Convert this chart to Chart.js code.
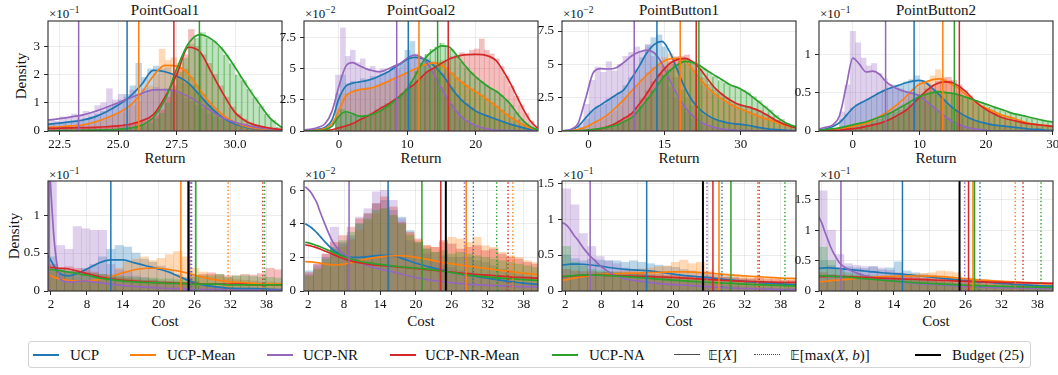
<!DOCTYPE html>
<html><head><meta charset="utf-8">
<script src="https://cdn.jsdelivr.net/npm/chart.js"></script>
<style>
html,body{margin:0;padding:0;background:#fff;}
body{width:1058px;height:375px;position:relative;overflow:hidden;font-family:"Liberation Serif","DejaVu Serif",serif;}
canvas{position:absolute;}
.t{position:absolute;white-space:nowrap;color:#111;line-height:1;font-weight:400;}
.c{transform:translate(-50%,-50%);}
.big{font-size:15px;}
.rot{transform:translate(-50%,-50%) rotate(-90deg);}
.off{font-size:13px;transform:translateY(-50%);}
.off sup{font-size:9.5px;vertical-align:5px;line-height:0;}
#legend{position:absolute;left:28px;top:341px;width:1003px;height:27px;border:1px solid #d4d4d4;border-radius:3px;box-sizing:border-box;}
.sw{position:absolute;height:0;width:26px;}
.lt{position:absolute;font-size:15px;transform:translateY(-50%);white-space:nowrap;line-height:1;color:#111;}
.bb{font-family:"DejaVu Sans",sans-serif;font-size:13.5px;}
</style></head><body>

<div class="t c big" style="left:165px;top:10px">PointGoal1</div>
<div class="t c big" style="left:421px;top:10px">PointGoal2</div>
<div class="t c big" style="left:679px;top:10px">PointButton1</div>
<div class="t c big" style="left:936px;top:10px">PointButton2</div>

<div class="t c big" style="left:165px;top:158px">Return</div>
<div class="t c big" style="left:421px;top:158px">Return</div>
<div class="t c big" style="left:679px;top:158px">Return</div>
<div class="t c big" style="left:936px;top:158px">Return</div>
<div class="t c big" style="left:165px;top:321px">Cost</div>
<div class="t c big" style="left:421px;top:321px">Cost</div>
<div class="t c big" style="left:679px;top:321px">Cost</div>
<div class="t c big" style="left:936px;top:321px">Cost</div>

<div class="t rot big" style="left:21px;top:76px">Density</div>
<div class="t rot big" style="left:14px;top:236px">Density</div>

<div class="t off" style="left:49px;top:13px">×10<sup>−1</sup></div>
<div class="t off" style="left:305px;top:13px">×10<sup>−2</sup></div>
<div class="t off" style="left:563px;top:13px">×10<sup>−2</sup></div>
<div class="t off" style="left:820px;top:13px">×10<sup>−1</sup></div>
<div class="t off" style="left:49px;top:174px">×10<sup>−1</sup></div>
<div class="t off" style="left:305px;top:174px">×10<sup>−2</sup></div>
<div class="t off" style="left:563px;top:174px">×10<sup>−1</sup></div>
<div class="t off" style="left:820px;top:174px">×10<sup>−1</sup></div>

<div id="legend"></div>
<div class="sw" style="left:33px;top:354px;border-top:2px solid #1f77b4"></div>
<div class="lt" style="left:70px;top:355px">UCP</div>
<div class="sw" style="left:130px;top:354px;border-top:2px solid #ff7f0e"></div>
<div class="lt" style="left:167px;top:355px">UCP-Mean</div>
<div class="sw" style="left:267px;top:354px;border-top:2px solid #9467bd"></div>
<div class="lt" style="left:303px;top:355px">UCP-NR</div>
<div class="sw" style="left:390px;top:354px;border-top:2px solid #d62728"></div>
<div class="lt" style="left:425px;top:355px">UCP-NR-Mean</div>
<div class="sw" style="left:552px;top:354px;border-top:2px solid #2ca02c"></div>
<div class="lt" style="left:589px;top:355px">UCP-NA</div>
<div class="sw" style="left:674px;top:354px;border-top:1.5px solid #4d4d4d"></div>
<div class="lt" style="left:708px;top:355px"><span class="bb">𝔼</span>[<i>X</i>]</div>
<div class="sw" style="left:754px;top:354px;border-top:1.5px dotted #4d4d4d"></div>
<div class="lt" style="left:790px;top:355px"><span class="bb">𝔼</span>[max(<i>X</i>, <i>b</i>)]</div>
<div class="sw" style="left:915px;top:353.5px;border-top:2.5px solid #000"></div>
<div class="lt" style="left:952px;top:355px">Budget (25)</div>

<script>
// ---------- series ----------
const seriesNames = ['UCP', 'UCP-Mean', 'UCP-NR', 'UCP-NR-Mean', 'UCP-NA'];
const seriesColors = ['#1f77b4', '#ff7f0e', '#9467bd', '#d62728', '#2ca02c'];
const budget = 25;

// ---------- PointGoal1 : Return ----------
const pg1RetX = [22,22.5,23,23.5,24,24.5,25,25.5,26,26.5,27,27.5,28,28.5,29,29.5,30,30.5,31,31.5,32];
const pg1RetKde = [
  [0.24,0.28,0.33,0.39,0.5,0.68,0.92,1.22,1.65,2.15,2.1,1.95,1.7,1.25,0.8,0.45,0.25,0.13,0.07,0.03,0.01],
  [0.13,0.15,0.18,0.22,0.32,0.46,0.64,0.9,1.35,1.95,2.33,2.3,2.02,1.45,0.93,0.55,0.3,0.15,0.08,0.05,0.03],
  [0.39,0.44,0.5,0.57,0.69,0.84,1.0,1.17,1.33,1.46,1.47,1.4,1.22,0.97,0.69,0.45,0.31,0.2,0.12,0.07,0.03],
  [0.09,0.1,0.11,0.12,0.13,0.15,0.18,0.24,0.36,0.58,1.2,2.0,2.97,2.8,2.05,1.3,0.65,0.33,0.18,0.1,0.05],
  [0.0,0.01,0.01,0.02,0.03,0.04,0.06,0.1,0.2,0.48,1.1,2.2,3.1,3.42,3.25,2.85,2.25,1.6,1.0,0.45,0.12]
];
const pg1RetBins = [22, 0.25];
const pg1RetHist = [
  [0.25,0.28,0.3,0.32,0.36,0.4,0.45,0.5,0.6,0.7,0.85,0.95,1.1,1.3,1.6,2.4,1.9,2.2,2.3,2.2,2.25,2.0,1.9,1.7,1.6,1.35,1.1,0.9,0.7,0.55,0.4,0.3,0.22,0.16,0.11,0.08,0.05,0.04,0.02,0.01],
  [0.12,0.14,0.15,0.17,0.18,0.2,0.22,0.26,0.32,0.38,0.45,0.55,0.65,0.78,0.9,1.05,1.3,1.6,2.0,2.9,2.5,2.6,2.4,2.2,1.9,1.6,1.3,1.0,0.8,0.6,0.45,0.33,0.22,0.16,0.11,0.08,0.06,0.05,0.04,0.03],
  [0.4,0.35,0.5,0.45,0.6,0.55,0.7,0.65,0.9,1.0,1.5,1.1,1.3,1.2,1.45,1.3,1.5,1.4,1.55,1.45,1.5,1.35,1.3,1.15,1.05,0.9,0.8,0.6,0.5,0.4,0.35,0.3,0.2,0.18,0.12,0.1,0.08,0.06,0.04,0.03],
  [0.08,0.09,0.1,0.1,0.11,0.12,0.12,0.13,0.13,0.14,0.15,0.17,0.18,0.2,0.24,0.28,0.35,0.45,0.55,0.75,1.2,1.6,2.2,2.7,3.6,3.0,2.7,2.4,2.0,1.6,1.2,0.85,0.6,0.42,0.3,0.22,0.16,0.12,0.08,0.06],
  [0,0,0.01,0.01,0.01,0.02,0.02,0.02,0.03,0.03,0.04,0.04,0.05,0.06,0.08,0.12,0.2,0.3,0.45,0.65,1.0,1.5,2.1,2.6,3.1,3.3,3.5,3.3,3.2,3.0,2.7,2.4,2.0,1.8,1.5,1.2,0.9,0.6,0.4,0.15]
];
const pg1RetMean = [25.38, 25.88, 23.31, 27.38, 28.47];

// ---------- PointGoal2 : Return ----------
const pg2RetX = [-5,-4,-3,-2,-1,0,1,2,3,4,5,6,7,8,9,10,11,12,13,14,15,16,17,18,19,20,21,22,23,24,25,26,27,28,29];
const pg2RetKde = [
  [0.05,0.08,0.15,0.3,0.9,2.6,3.6,3.85,3.95,4.05,4.2,4.45,4.7,5.05,5.4,5.75,5.92,5.85,5.65,5.2,4.6,3.85,3.05,2.45,2.0,1.6,1.35,1.15,0.95,0.75,0.55,0.4,0.25,0.13,0.06],
  [0.03,0.05,0.1,0.2,0.6,1.6,2.8,3.15,3.33,3.4,3.5,3.7,3.95,4.2,4.45,4.7,4.95,5.2,5.42,5.48,5.3,4.9,4.35,3.9,3.5,3.15,2.8,2.4,2.0,1.55,1.15,0.8,0.48,0.25,0.12],
  [0.1,0.15,0.3,0.6,1.6,3.6,5.2,5.5,5.25,5.0,4.85,4.77,4.95,5.2,5.45,5.85,6.1,5.95,5.4,4.45,3.4,2.5,1.7,1.1,0.7,0.42,0.25,0.14,0.08,0.05,0.03,0.02,0.01,0,0],
  [0,0.01,0.02,0.05,0.1,0.25,0.4,0.6,0.88,1.15,1.45,1.8,2.1,2.45,2.85,3.35,3.75,4.3,4.8,5.1,5.45,5.75,5.95,6.1,6.15,6.17,6.15,6.0,5.65,4.85,3.9,2.8,1.7,0.8,0.25],
  [0,0.01,0.03,0.1,0.4,1.2,1.55,1.4,1.2,1.22,1.35,1.6,1.95,2.35,2.8,3.4,4.3,5.3,6.1,6.55,6.85,6.8,6.25,5.55,4.9,4.35,3.9,3.5,3.2,2.75,2.2,1.45,0.8,0.35,0.12]
];
const pg2RetBins = [-0.5, 0.725];
const pg2RetHist = [
  [3.0,4.5,3.8,4.0,3.9,4.2,4.0,4.4,4.3,4.6,4.8,5.0,5.2,5.5,6.5,7.2,6.0,5.9,5.8,5.4,5.0,4.6,4.0,3.5,2.9,2.5,2.2,1.9,1.6,1.4,1.25,1.1,0.95,0.8,0.65,0.5,0.4,0.3,0.2,0.12],
  [1.8,3.0,3.0,3.3,3.2,3.4,3.5,3.5,3.7,3.9,4.0,4.2,4.3,4.5,4.7,4.8,5.0,5.2,5.4,5.6,5.5,5.7,5.1,4.7,4.3,4.0,3.7,3.4,3.2,2.9,2.6,2.3,2.0,1.7,1.4,1.1,0.85,0.6,0.4,0.25],
  [4.5,8.3,6.0,6.5,5.5,5.8,5.0,5.2,4.8,5.0,4.7,5.1,5.0,5.4,5.6,5.8,6.2,5.9,5.6,5.0,4.2,3.5,2.7,2.1,1.6,1.2,0.85,0.6,0.42,0.28,0.18,0.12,0.08,0.05,0.03,0.02,0.01,0.01,0,0],
  [0.3,0.4,0.5,0.6,0.8,1.0,1.2,1.4,1.7,1.9,2.2,2.4,2.7,3.0,3.4,3.7,3.9,4.3,4.8,5.0,5.3,5.5,5.6,6.0,6.1,6.3,6.2,6.5,6.6,7.4,6.5,6.2,5.8,5.2,4.4,3.6,2.8,2.1,1.4,0.8],
  [1.2,1.8,1.5,1.3,1.2,1.2,1.3,1.4,1.5,1.7,2.0,2.3,2.6,3.0,3.4,4.0,4.8,5.5,6.2,6.6,6.8,7.1,6.9,6.6,6.1,5.6,5.1,4.7,4.3,4.0,3.7,3.4,3.2,2.9,2.5,2.1,1.5,1.0,0.6,0.3]
];
const pg2RetMean = [10.15, 11.7, 8.45, 15.98, 14.43];

// ---------- PointButton1 : Return ----------
const pb1RetX = [-5,-3.5,-2,-0.5,1,2.5,4,5.5,7,8.5,10,11.5,13,14.5,16,17.5,19,20.5,22,23.5,25,26.5,28,29.5,31,32.5,34,35.5,37,38.5,40,41.5];
const pb1RetKde = [
  [0.01,0.08,0.35,1.0,1.6,1.98,2.35,2.72,3.1,3.95,4.85,5.85,6.5,6.72,5.95,4.6,3.25,2.25,1.6,1.17,0.88,0.7,0.58,0.52,0.45,0.35,0.23,0.15,0.1,0.06,0.03,0.02],
  [0.0,0.03,0.12,0.3,0.6,0.9,1.28,1.8,2.35,3.0,3.6,4.2,4.7,5.15,5.4,5.45,5.28,4.62,3.9,3.25,2.75,2.35,2.0,1.72,1.5,1.25,1.02,0.85,0.65,0.45,0.32,0.22],
  [0.02,0.12,0.6,2.5,4.4,4.68,4.65,4.75,5.15,5.62,5.92,6.07,5.85,5.05,3.85,2.7,1.8,1.15,0.7,0.42,0.25,0.14,0.08,0.05,0.03,0.02,0.01,0,0,0,0,0],
  [0,0,0.01,0.03,0.08,0.18,0.35,0.6,0.95,1.3,2.0,2.8,3.7,4.45,5.05,5.35,5.45,5.2,4.65,3.9,3.2,2.7,2.3,2.0,1.85,1.68,1.45,1.12,0.78,0.52,0.33,0.2],
  [0,0,0.02,0.05,0.12,0.2,0.3,0.45,0.7,1.0,1.6,2.3,3.05,3.9,4.5,4.95,5.22,5.15,4.9,4.5,4.15,3.8,3.45,3.25,2.92,2.5,2.05,1.58,1.08,0.7,0.42,0.25]
];
const pb1RetBins = [-2, 1.1];
const pb1RetHist = [
  [0.3,0.9,1.5,1.8,2.0,2.4,2.6,2.9,3.4,4.0,4.6,5.5,6.4,7.0,7.2,6.3,5.0,4.0,3.1,2.5,1.9,1.5,1.2,1.0,0.85,0.7,0.62,0.56,0.52,0.48,0.42,0.34,0.26,0.18,0.13,0.1,0.07,0.05,0.03,0.02],
  [0.1,0.25,0.45,0.65,0.9,1.2,1.5,1.9,2.4,2.9,3.4,3.9,4.4,4.8,5.2,5.5,5.8,5.6,5.4,5.0,4.5,3.9,3.4,3.0,2.7,2.4,2.2,1.95,1.75,1.6,1.45,1.3,1.15,1.0,0.85,0.7,0.55,0.42,0.32,0.22],
  [0.6,2.0,3.8,4.8,4.4,5.2,4.5,5.0,5.6,5.9,6.3,6.0,6.5,5.6,4.9,4.2,3.3,2.5,1.9,1.4,0.9,0.6,0.4,0.3,0.2,0.12,0.08,0.05,0.03,0.02,0.02,0.01,0.01,0,0,0,0,0,0,0],
  [0,0.02,0.05,0.1,0.2,0.35,0.5,0.75,1.0,1.3,1.8,2.4,3.0,3.7,4.3,4.8,5.2,5.5,5.6,5.7,5.2,4.6,4.0,3.5,3.1,2.8,2.5,2.2,2.05,1.9,1.85,1.7,1.55,1.3,1.05,0.8,0.6,0.45,0.32,0.2],
  [0,0.03,0.08,0.12,0.18,0.28,0.4,0.55,0.75,1.0,1.4,1.9,2.5,3.1,3.7,4.2,4.6,5.0,5.3,5.4,5.2,5.0,4.7,4.4,4.1,3.8,3.6,3.4,3.3,3.1,2.9,2.6,2.3,1.9,1.6,1.2,0.9,0.6,0.4,0.3]
];
const pb1RetMean = [13.5, 18.09, 9.03, 21.24, 21.77];

// ---------- PointButton2 : Return ----------
const pb2RetX = [-5,-4,-3,-2,-1,0,1,2,3,4,5,6,7,8,9,10,11,12,13,14,15,16,17,18,19,20,21,22,23,24,25,26,27,28,29,30];
const pb2RetKde = [
  [0.01,0.03,0.06,0.11,0.2,0.3,0.36,0.4,0.45,0.5,0.54,0.57,0.6,0.63,0.65,0.66,0.63,0.55,0.47,0.38,0.3,0.24,0.19,0.15,0.12,0.1,0.08,0.07,0.06,0.05,0.04,0.03,0.02,0.02,0.01,0.01],
  [0,0.01,0.02,0.03,0.04,0.06,0.08,0.1,0.14,0.19,0.24,0.3,0.37,0.45,0.54,0.61,0.64,0.67,0.68,0.65,0.6,0.55,0.47,0.4,0.34,0.3,0.26,0.22,0.19,0.17,0.14,0.11,0.09,0.08,0.07,0.06],
  [0.03,0.05,0.08,0.2,0.58,0.95,0.87,0.77,0.78,0.74,0.64,0.58,0.54,0.51,0.49,0.46,0.39,0.32,0.25,0.18,0.12,0.08,0.05,0.03,0.02,0.01,0,0,0,0,0,0,0,0,0,0],
  [0,0,0.01,0.01,0.02,0.03,0.04,0.06,0.08,0.1,0.13,0.17,0.22,0.27,0.35,0.44,0.52,0.59,0.63,0.64,0.63,0.58,0.51,0.42,0.34,0.28,0.23,0.19,0.16,0.14,0.12,0.1,0.09,0.08,0.07,0.06],
  [0.01,0.02,0.03,0.04,0.06,0.08,0.1,0.12,0.15,0.18,0.21,0.25,0.3,0.35,0.4,0.45,0.48,0.5,0.51,0.5,0.49,0.47,0.44,0.41,0.38,0.35,0.32,0.29,0.26,0.23,0.21,0.19,0.17,0.15,0.13,0.12]
];
const pb2RetBins = [-2, 0.8];
const pb2RetHist = [
  [0.15,0.22,0.3,0.35,0.38,0.42,0.45,0.5,0.52,0.56,0.6,0.6,0.64,0.67,0.72,0.66,0.62,0.55,0.48,0.4,0.33,0.27,0.22,0.18,0.15,0.13,0.11,0.1,0.08,0.07,0.07,0.06,0.05,0.04,0.03,0.03,0.02,0.02,0.01,0.01],
  [0.02,0.04,0.05,0.07,0.09,0.11,0.13,0.17,0.21,0.25,0.3,0.35,0.42,0.5,0.56,0.62,0.66,0.72,0.8,0.7,0.66,0.6,0.54,0.47,0.41,0.36,0.32,0.29,0.26,0.23,0.2,0.18,0.16,0.14,0.12,0.1,0.09,0.08,0.07,0.06],
  [0.25,0.6,1.3,1.15,0.95,0.85,0.88,0.75,0.68,0.6,0.56,0.55,0.5,0.5,0.48,0.44,0.38,0.32,0.26,0.2,0.16,0.12,0.08,0.06,0.04,0.03,0.02,0.01,0.01,0,0,0,0,0,0,0,0,0,0,0],
  [0.01,0.02,0.03,0.04,0.05,0.07,0.08,0.1,0.12,0.15,0.18,0.22,0.27,0.33,0.4,0.48,0.55,0.6,0.65,0.68,0.7,0.66,0.6,0.53,0.46,0.38,0.32,0.27,0.23,0.2,0.17,0.15,0.14,0.12,0.11,0.1,0.09,0.08,0.07,0.06],
  [0.05,0.06,0.08,0.09,0.1,0.12,0.14,0.16,0.19,0.22,0.25,0.28,0.33,0.37,0.42,0.46,0.49,0.52,0.53,0.52,0.5,0.49,0.47,0.45,0.42,0.4,0.37,0.35,0.32,0.3,0.27,0.25,0.23,0.21,0.19,0.17,0.16,0.15,0.14,0.13]
];
const pb2RetMean = [9.2, 13.51, 4.92, 15.99, 15.24];

// ---------- Costs (shared grid / bins) ----------
const costX = [1.5,2,2.5,3,3.5,4,5,6,7,8,9,10,12,14,16,18,20,22,24,26,28,30,32,34,36,38,40,41];
const costBins = [1.5, 1.4];

const pg1CostKde = [
  [0.47,0.4,0.33,0.27,0.23,0.21,0.2,0.22,0.25,0.29,0.33,0.37,0.41,0.41,0.37,0.33,0.29,0.24,0.17,0.11,0.07,0.05,0.035,0.03,0.03,0.025,0.02,0.02],
  [0.21,0.2,0.18,0.17,0.16,0.15,0.14,0.13,0.13,0.13,0.14,0.15,0.19,0.24,0.28,0.3,0.3,0.28,0.25,0.21,0.17,0.14,0.12,0.11,0.1,0.09,0.09,0.09],
  [2.0,1.3,0.7,0.35,0.18,0.13,0.12,0.12,0.13,0.13,0.12,0.11,0.09,0.07,0.06,0.05,0.04,0.03,0.03,0.02,0.02,0.02,0.01,0.01,0.01,0.01,0.01,0.01],
  [0.31,0.31,0.31,0.3,0.3,0.3,0.29,0.27,0.25,0.23,0.21,0.19,0.16,0.14,0.13,0.12,0.11,0.11,0.1,0.1,0.09,0.09,0.09,0.09,0.08,0.08,0.08,0.08],
  [0.28,0.28,0.28,0.27,0.27,0.26,0.25,0.24,0.22,0.21,0.19,0.17,0.15,0.13,0.12,0.11,0.11,0.1,0.1,0.09,0.09,0.09,0.08,0.08,0.08,0.08,0.08,0.08]
];
const pg1CostHist = [
  [0.45,0.3,0.25,0.25,0.3,0.35,0.45,0.55,0.6,0.58,0.5,0.42,0.38,0.33,0.28,0.22,0.18,0.13,0.09,0.07,0.05,0.04,0.04,0.03,0.03,0.03,0.02,0.02],
  [0.25,0.18,0.15,0.14,0.14,0.15,0.18,0.22,0.3,0.38,0.42,0.45,0.4,0.43,0.48,0.52,0.45,0.3,0.25,0.22,0.2,0.17,0.15,0.14,0.13,0.12,0.12,0.11],
  [1.6,0.6,0.55,0.85,0.82,0.8,0.8,0.35,0.28,0.25,0.2,0.18,0.15,0.13,0.12,0.1,0.1,0.08,0.07,0.06,0.06,0.05,0.05,0.05,0.04,0.04,0.04,0.03],
  [0.35,0.3,0.32,0.3,0.28,0.25,0.22,0.2,0.18,0.17,0.15,0.14,0.14,0.13,0.12,0.12,0.11,0.2,0.22,0.24,0.22,0.2,0.2,0.22,0.21,0.23,0.3,0.28],
  [0.3,0.28,0.26,0.25,0.24,0.23,0.22,0.2,0.2,0.19,0.18,0.17,0.17,0.16,0.16,0.15,0.15,0.18,0.2,0.2,0.22,0.18,0.2,0.2,0.19,0.18,0.18,0.17]
];
const pg1CostMean = [12.0, 23.7, 1.7, 24.9, 26.2];
const pg1CostMaxMean = [25.5, 31.6, 25.3, 37.4, 37.7];

const pg2CostKde = [
  [4.0,3.9,3.78,3.62,3.45,3.25,2.85,2.5,2.25,2.08,2.02,2.0,2.05,2.12,2.12,1.9,1.65,1.45,1.27,1.1,0.97,0.87,0.76,0.65,0.55,0.47,0.41,0.38],
  [1.75,1.74,1.73,1.71,1.69,1.66,1.6,1.56,1.56,1.6,1.68,1.76,1.92,2.03,2.1,2.1,2.0,1.88,1.73,1.62,1.52,1.42,1.33,1.23,1.15,1.06,0.99,0.96],
  [6.2,6.05,5.85,5.55,5.2,4.7,3.8,3.0,2.5,2.2,1.98,1.8,1.5,1.3,1.15,0.97,0.8,0.68,0.58,0.5,0.43,0.38,0.34,0.31,0.28,0.26,0.24,0.23],
  [2.75,2.72,2.68,2.63,2.57,2.5,2.35,2.2,2.05,1.92,1.8,1.72,1.6,1.52,1.47,1.41,1.34,1.27,1.2,1.12,1.05,0.99,0.94,0.88,0.83,0.8,0.77,0.75],
  [2.9,2.87,2.82,2.76,2.7,2.63,2.48,2.33,2.18,2.05,1.93,1.83,1.67,1.58,1.5,1.42,1.37,1.3,1.2,1.1,0.98,0.9,0.83,0.77,0.72,0.67,0.63,0.61]
];
const pg2CostHist = [
  [1.2,1.5,2.0,2.6,2.8,3.3,4.0,4.6,5.2,5.4,4.8,4.4,3.6,2.9,2.5,2.3,2.1,2.0,2.0,2.0,1.8,1.7,1.5,1.3,1.2,1.0,0.9,0.8],
  [0.9,1.3,1.7,2.2,2.6,3.0,3.6,4.2,4.6,4.9,4.5,4.0,3.4,3.0,2.7,2.6,2.9,3.2,3.1,2.9,3.2,2.7,2.6,2.3,2.1,2.0,1.8,1.7],
  [1.0,1.6,2.2,3.8,2.9,3.1,4.4,4.9,5.9,6.0,5.4,4.3,3.0,2.8,2.2,1.8,1.5,1.4,1.2,1.1,1.0,0.9,0.8,0.7,0.6,0.5,0.45,0.4],
  [1.1,1.6,2.2,2.9,3.3,3.8,4.3,4.6,5.2,5.6,5.0,4.1,3.5,3.1,2.7,2.6,3.0,2.8,2.5,2.6,2.7,2.4,2.5,2.2,2.0,1.9,1.7,1.6],
  [0.9,1.3,1.9,2.5,3.0,3.5,4.0,4.3,4.8,4.9,4.5,4.0,3.3,2.9,2.5,2.3,2.4,2.2,2.3,2.2,2.1,2.0,1.9,1.8,1.7,1.6,1.5,1.4]
];
const pg2CostMean = [15.35, 28.4, 8.83, 24.16, 21.0];
const pg2CostMaxMean = [29.6, 36.2, 28.1, 35.4, 33.5];

const pb1CostKde = [
  [0.36,0.365,0.37,0.373,0.375,0.375,0.372,0.365,0.355,0.345,0.33,0.32,0.3,0.29,0.28,0.26,0.235,0.215,0.2,0.185,0.165,0.15,0.135,0.12,0.11,0.1,0.09,0.09],
  [0.15,0.155,0.16,0.17,0.18,0.19,0.2,0.215,0.225,0.23,0.235,0.24,0.245,0.25,0.255,0.26,0.265,0.265,0.26,0.25,0.235,0.22,0.21,0.2,0.19,0.18,0.175,0.17],
  [0.95,0.93,0.89,0.83,0.77,0.72,0.6,0.5,0.42,0.34,0.28,0.23,0.17,0.14,0.12,0.1,0.09,0.08,0.07,0.06,0.05,0.04,0.035,0.03,0.025,0.02,0.02,0.02],
  [0.2,0.2,0.205,0.21,0.212,0.215,0.218,0.22,0.22,0.22,0.218,0.215,0.21,0.205,0.2,0.195,0.19,0.18,0.17,0.16,0.15,0.14,0.135,0.13,0.125,0.12,0.12,0.12],
  [0.2,0.205,0.21,0.212,0.215,0.218,0.22,0.222,0.222,0.22,0.215,0.21,0.2,0.19,0.175,0.162,0.15,0.14,0.13,0.12,0.11,0.105,0.095,0.088,0.082,0.077,0.072,0.07]
];
const pb1CostHist = [
  [0.5,0.45,0.42,0.44,0.43,0.42,0.42,0.4,0.42,0.4,0.38,0.36,0.34,0.33,0.3,0.28,0.26,0.24,0.22,0.2,0.19,0.17,0.16,0.14,0.13,0.12,0.11,0.1],
  [0.18,0.2,0.22,0.24,0.25,0.26,0.27,0.28,0.3,0.31,0.32,0.34,0.35,0.4,0.43,0.38,0.4,0.28,0.25,0.24,0.22,0.2,0.2,0.19,0.18,0.17,0.17,0.16],
  [1.42,1.2,0.8,0.62,0.48,0.42,0.38,0.32,0.28,0.25,0.22,0.2,0.18,0.16,0.15,0.14,0.13,0.1,0.09,0.08,0.07,0.06,0.06,0.05,0.05,0.04,0.04,0.04],
  [0.3,0.28,0.27,0.27,0.26,0.26,0.25,0.25,0.24,0.24,0.23,0.23,0.22,0.22,0.21,0.21,0.2,0.2,0.19,0.19,0.18,0.17,0.17,0.18,0.16,0.16,0.15,0.15],
  [0.62,0.4,0.35,0.3,0.28,0.27,0.26,0.25,0.24,0.23,0.22,0.21,0.2,0.19,0.18,0.17,0.16,0.15,0.15,0.14,0.13,0.13,0.12,0.12,0.11,0.11,0.1,0.1]
];
const pb1CostMean = [15.6, 27.68, 6.15, 26.67, 29.68];
const pb1CostMaxMean = [28.18, 34.15, 25.67, 34.4, 38.7];

const pb2CostKde = [
  [0.37,0.375,0.38,0.38,0.38,0.375,0.37,0.36,0.35,0.34,0.33,0.32,0.3,0.285,0.27,0.25,0.23,0.21,0.19,0.17,0.15,0.14,0.125,0.11,0.1,0.09,0.08,0.08],
  [0.15,0.155,0.16,0.165,0.17,0.175,0.18,0.19,0.2,0.21,0.22,0.225,0.235,0.24,0.245,0.247,0.245,0.237,0.22,0.2,0.185,0.17,0.16,0.15,0.14,0.13,0.12,0.12],
  [1.22,1.12,0.98,0.85,0.72,0.62,0.46,0.38,0.33,0.29,0.26,0.23,0.2,0.17,0.14,0.12,0.11,0.1,0.085,0.075,0.068,0.06,0.055,0.05,0.045,0.042,0.04,0.04],
  [0.235,0.237,0.238,0.239,0.24,0.24,0.238,0.235,0.232,0.228,0.224,0.22,0.212,0.205,0.197,0.19,0.182,0.175,0.168,0.16,0.153,0.147,0.142,0.138,0.134,0.13,0.127,0.125],
  [0.25,0.25,0.248,0.246,0.244,0.242,0.238,0.23,0.222,0.213,0.204,0.195,0.178,0.162,0.148,0.135,0.123,0.113,0.104,0.096,0.088,0.082,0.076,0.071,0.067,0.063,0.06,0.06]
];
const pb2CostHist = [
  [0.5,0.42,0.38,0.4,0.38,0.37,0.4,0.35,0.38,0.48,0.33,0.3,0.28,0.26,0.24,0.22,0.2,0.18,0.17,0.15,0.14,0.13,0.12,0.11,0.1,0.09,0.09,0.08],
  [0.15,0.17,0.19,0.2,0.22,0.23,0.24,0.25,0.26,0.27,0.28,0.28,0.29,0.3,0.33,0.32,0.3,0.22,0.2,0.19,0.18,0.17,0.16,0.15,0.15,0.14,0.13,0.13],
  [1.65,1.0,0.6,0.45,0.42,0.4,0.4,0.38,0.34,0.3,0.26,0.22,0.2,0.17,0.15,0.13,0.12,0.1,0.09,0.08,0.08,0.07,0.06,0.06,0.05,0.05,0.05,0.04],
  [0.3,0.27,0.26,0.26,0.25,0.25,0.24,0.24,0.23,0.23,0.22,0.22,0.21,0.21,0.2,0.2,0.19,0.18,0.17,0.17,0.16,0.16,0.15,0.15,0.14,0.14,0.13,0.13],
  [0.72,0.5,0.35,0.3,0.28,0.26,0.25,0.23,0.22,0.2,0.19,0.18,0.17,0.16,0.15,0.14,0.13,0.12,0.12,0.11,0.1,0.1,0.09,0.09,0.08,0.08,0.08,0.07]
];
const pb2CostMean = [15.47, 27.24, 5.2, 26.5, 27.5];
const pb2CostMaxMean = [28.4, 34.3, 25.84, 35.6, 38.6];

// ---------- ticks ----------
const pg1RetXTicks = [22.5, 25, 27.5, 30], pg1RetXLabels = ['22.5', '25.0', '27.5', '30.0'];
const pg2RetXTicks = [0, 10, 20], pg2RetXLabels = ['0', '10', '20'];
const pb1RetXTicks = [0, 15, 30], pb1RetXLabels = ['0', '15', '30'];
const pb2RetXTicks = [0, 10, 20, 30], pb2RetXLabels = ['0', '10', '20', '30'];
const costXTicks = [2, 8, 14, 20, 26, 32, 38], costXLabels = ['2', '8', '14', '20', '26', '32', '38'];
const pg1RetYTicks = [0, 1, 2, 3], pg1RetYLabels = ['0', '1', '2', '3'];
const pg2RetYTicks = [0, 2.5, 5, 7.5], pg2RetYLabels = ['0', '2.5', '5', '7.5'];
const pb1RetYTicks = [0, 2.5, 5, 7.5], pb1RetYLabels = ['0', '2.5', '5', '7.5'];
const pb2RetYTicks = [0, 0.5, 1], pb2RetYLabels = ['0', '0.5', '1'];
const pg1CostYTicks = [0, 0.5, 1], pg1CostYLabels = ['0', '0.5', '1'];
const pg2CostYTicks = [0, 2, 4, 6], pg2CostYLabels = ['0', '2', '4', '6'];
const pb1CostYTicks = [0, 0.5, 1, 1.5], pb1CostYLabels = ['0', '0.5', '1', '1.5'];
const pb2CostYTicks = [0, 0.5, 1, 1.5], pb2CostYLabels = ['0', '0.5', '1', '1.5'];

// ---------- panel table (layout kept separate from data) ----------
const panels = [
  {L:48,  T:21,  xr:[22, 32],     ymax:3.9,   grid:pg1RetX, kde:pg1RetKde, bins:pg1RetBins, hist:pg1RetHist, mean:pg1RetMean, xt:pg1RetXTicks, xl:pg1RetXLabels, yt:pg1RetYTicks, yl:pg1RetYLabels, edges:true},
  {L:304, T:21,  xr:[-5.1, 29.1], ymax:8.85,  grid:pg2RetX, kde:pg2RetKde, bins:pg2RetBins, hist:pg2RetHist, mean:pg2RetMean, xt:pg2RetXTicks, xl:pg2RetXLabels, yt:pg2RetYTicks, yl:pg2RetYLabels, edges:true},
  {L:562, T:21,  xr:[-5.2, 40.9], ymax:8.25,  grid:pb1RetX, kde:pb1RetKde, bins:pb1RetBins, hist:pb1RetHist, mean:pb1RetMean, xt:pb1RetXTicks, xl:pb1RetXLabels, yt:pb1RetYTicks, yl:pb1RetYLabels, edges:true},
  {L:819, T:21,  xr:[-5.08, 30.05], ymax:1.435, grid:pb2RetX, kde:pb2RetKde, bins:pb2RetBins, hist:pb2RetHist, mean:pb2RetMean, xt:pb2RetXTicks, xl:pb2RetXLabels, yt:pb2RetYTicks, yl:pb2RetYLabels, edges:true},
  {L:48,  T:181, xr:[1.5, 40.6],  ymax:1.45,  grid:costX, kde:pg1CostKde, bins:costBins, hist:pg1CostHist, mean:pg1CostMean, maxMean:pg1CostMaxMean, xt:costXTicks, xl:costXLabels, yt:pg1CostYTicks, yl:pg1CostYLabels, budget:true},
  {L:304, T:181, xr:[1.3, 40.4],  ymax:6.55,  grid:costX, kde:pg2CostKde, bins:costBins, hist:pg2CostHist, mean:pg2CostMean, maxMean:pg2CostMaxMean, xt:costXTicks, xl:costXLabels, yt:pg2CostYTicks, yl:pg2CostYLabels, budget:true},
  {L:562, T:181, xr:[1.45, 40.55], ymax:1.53, grid:costX, kde:pb1CostKde, bins:costBins, hist:pb1CostHist, mean:pb1CostMean, maxMean:pb1CostMaxMean, xt:costXTicks, xl:costXLabels, yt:pb1CostYTicks, yl:pb1CostYLabels, budget:true},
  {L:819, T:181, xr:[1.54, 40.6], ymax:1.81,  grid:costX, kde:pb2CostKde, bins:costBins, hist:pb2CostHist, mean:pb2CostMean, maxMean:pb2CostMaxMean, xt:costXTicks, xl:costXLabels, yt:pb2CostYTicks, yl:pb2CostYLabels, budget:true}
];
const PW = 234, PH = 110;

function rgba(hex, a) {
  const n = parseInt(hex.slice(1), 16);
  return `rgba(${(n >> 16) & 255},${(n >> 8) & 255},${n & 255},${a})`;
}

const framePlugin = {
  id: 'frame',
  afterDatasetsDraw(chart) {
    const {ctx, chartArea: a} = chart;
    ctx.save();
    ctx.strokeStyle = '#2b2b2b';
    ctx.lineWidth = 1.1;
    ctx.strokeRect(a.left, a.top, a.right - a.left, a.bottom - a.top);
    ctx.restore();
  }
};

const tickFont = {family: 'Liberation Serif', size: 13};
const gridOpts = {color: 'rgba(0,0,0,0.09)', lineWidth: 0.8, tickColor: '#2b2b2b', tickLength: 4, tickWidth: 1, offset: false, drawTicks: true};

function buildPanel(p) {
  const ML = 46, MT = 10, MR = 12, MB = 26;
  const cv = document.createElement('canvas');
  cv.width = PW + ML + MR; cv.height = PH + MT + MB;
  cv.style.left = (p.L - ML) + 'px'; cv.style.top = (p.T - MT) + 'px';
  cv.style.width = cv.width + 'px'; cv.style.height = cv.height + 'px';
  document.body.appendChild(cv);

  const datasets = [];
  const [b0, bw] = p.bins;
  p.hist.forEach((h, i) => {
    const edge = p.edges && i === 4;
    datasets.push({
      type: 'bar', label: seriesNames[i],
      data: h.map((v, k) => ({x: b0 + bw * (k + 0.5), y: v})),
      backgroundColor: rgba(seriesColors[i], 0.3),
      borderColor: rgba(seriesColors[i], 0.55),
      borderWidth: edge ? {left: 1, right: 0, top: 0, bottom: 0} : 0,
      borderSkipped: false,
      barPercentage: 1, categoryPercentage: 1, grouped: false, order: 50 - i
    });
  });
  p.kde.forEach((d, i) => {
    datasets.push({
      type: 'line', label: seriesNames[i] + ' kde',
      data: d.map((v, j) => ({x: p.grid[j], y: v})),
      borderColor: seriesColors[i], borderWidth: 1.7, pointRadius: 0, fill: false,
      cubicInterpolationMode: 'monotone', order: 30 - i
    });
  });
  p.mean.forEach((m, i) => {
    datasets.push({
      type: 'line', label: seriesNames[i] + ' E[X]',
      data: [{x: m, y: 0}, {x: m, y: p.ymax}],
      borderColor: seriesColors[i], borderWidth: 1.5, pointRadius: 0, fill: false, order: 20 - i
    });
  });
  if (p.maxMean) p.maxMean.forEach((m, i) => {
    datasets.push({
      type: 'line', label: seriesNames[i] + ' E[max]',
      data: [{x: m, y: 0}, {x: m, y: p.ymax}],
      borderColor: seriesColors[i], borderWidth: 1.4, borderDash: [1.4, 2.3], pointRadius: 0, fill: false, order: 12 - i
    });
  });
  if (p.budget) datasets.push({
    type: 'line', label: 'Budget',
    data: [{x: budget, y: 0}, {x: budget, y: p.ymax}],
    borderColor: '#000', borderWidth: 2, pointRadius: 0, fill: false, order: 0
  });

  new Chart(cv.getContext('2d'), {
    type: 'bar',
    data: {datasets},
    options: {
      responsive: false, animation: false, events: [], devicePixelRatio: 1,
      layout: {padding: {left: 0, top: MT, right: MR, bottom: 0}, autoPadding: false},
      plugins: {legend: {display: false}, tooltip: {enabled: false}},
      scales: {
        x: {
          type: 'linear', min: p.xr[0], max: p.xr[1], offset: false,
          afterBuildTicks: s => { s.ticks = p.xt.map(v => ({value: v})); },
          afterFit: s => { s.height = MB; s.paddingLeft = 0; s.paddingRight = 0; },
          ticks: {autoSkip: false, maxRotation: 0, minRotation: 0, padding: 2, color: '#111', font: tickFont,
                  callback: (v, i) => p.xl[i]},
          grid: gridOpts, border: {display: false}
        },
        y: {
          type: 'linear', min: 0, max: p.ymax,
          afterBuildTicks: s => { s.ticks = p.yt.map(v => ({value: v})); },
          afterFit: s => { s.width = ML; s.paddingTop = 0; s.paddingBottom = 0; },
          ticks: {autoSkip: false, padding: 4, color: '#111', font: tickFont,
                  callback: (v, i) => p.yl[i]},
          grid: gridOpts, border: {display: false}
        }
      }
    },
    plugins: [framePlugin]
  });
}

panels.forEach(buildPanel);
</script>
</body></html>
